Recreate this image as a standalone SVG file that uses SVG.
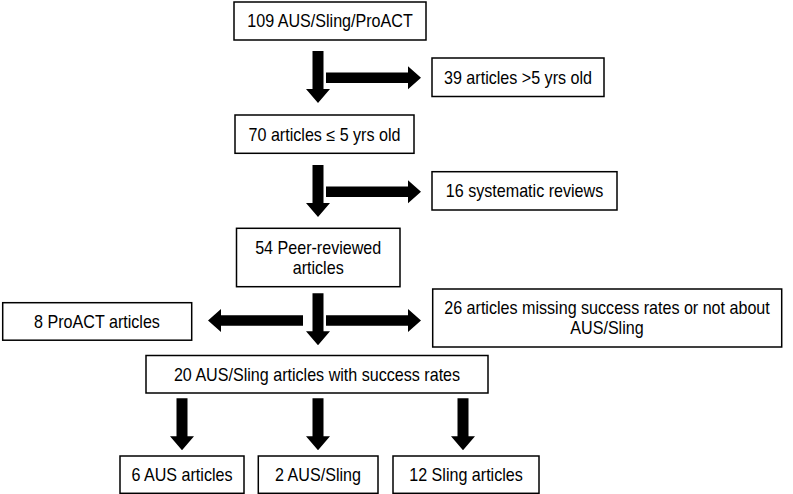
<svg xmlns="http://www.w3.org/2000/svg" xmlns:xlink="http://www.w3.org/1999/xlink" width="793" height="494" viewBox="0 0 793 494">
<style>
.box{fill:#fff;stroke:#000;stroke-width:1.5}
.t{font-family:"Liberation Sans",Arial,sans-serif;font-size:17.7px;fill:#000;text-anchor:middle}
.arr{fill:#000}
</style>
<defs>
<path id="down" d="M-5.5,0 H5.5 V38 H12 L0,52 L-12,38 H-5.5 Z"/>
<path id="right" d="M0,-5.3 H82 V-11.5 L95,0 L82,11.5 V5.3 H0 Z"/>
</defs>
<rect width="793" height="494" fill="#fff"/>
<g id="connectors" class="arr">
<use xlink:href="#down" transform="translate(318,51)"/>
<use xlink:href="#right" transform="translate(326,77.7)"/>
<use xlink:href="#down" transform="translate(318,165)"/>
<use xlink:href="#right" transform="translate(326,191.7)"/>
<use xlink:href="#down" transform="translate(318,293.3)"/>
<use xlink:href="#right" transform="translate(326,320.5)"/>
<use xlink:href="#right" transform="translate(303,320.5) scale(-1,1)"/>
<use xlink:href="#down" transform="translate(182,398.3)"/>
<use xlink:href="#down" transform="translate(318,398.3)"/>
<use xlink:href="#down" transform="translate(463,398.3)"/>
</g>
<g id="n1"><rect class="box" x="234" y="2" width="192" height="38"/><text class="t" transform="translate(330,27.3) scale(0.91,1)">109 AUS/Sling/ProACT</text></g>
<g id="n2"><rect class="box" x="432" y="58" width="172" height="38.5"/><text class="t" transform="translate(518,83.5) scale(0.91,1)">39 articles &gt;5 yrs old</text></g>
<g id="n3"><rect class="box" x="235" y="115" width="179" height="38.3"/><text class="t" transform="translate(324.5,140.5) scale(0.91,1)">70 articles ≤ 5 yrs old</text></g>
<g id="n4"><rect class="box" x="432" y="171.7" width="185" height="38.3"/><text class="t" transform="translate(524.5,197.2) scale(0.91,1)">16 systematic reviews</text></g>
<g id="n5"><rect class="box" x="236.5" y="228.3" width="163.5" height="58.4"/><text class="t" transform="translate(318.2,253.8) scale(0.91,1)">54 Peer-reviewed</text><text class="t" transform="translate(318.2,273.8) scale(0.91,1)">articles</text></g>
<g id="n6"><rect class="box" x="2.7" y="302.7" width="189" height="37.5"/><text class="t" transform="translate(97,327.8) scale(0.91,1)">8 ProACT articles</text></g>
<g id="n7"><rect class="box" x="432.7" y="289" width="349" height="58"/><text class="t" transform="translate(607,314.3) scale(0.91,1)">26 articles missing success rates or not about</text><text class="t" transform="translate(607,334.3) scale(0.91,1)">AUS/Sling</text></g>
<g id="n8"><rect class="box" x="146" y="355.5" width="342" height="37.5"/><text class="t" transform="translate(317,380.5) scale(0.91,1)">20 AUS/Sling articles with success rates</text></g>
<g id="n9"><rect class="box" x="120" y="456" width="124" height="37.3"/><text class="t" transform="translate(182,481) scale(0.91,1)">6 AUS articles</text></g>
<g id="n10"><rect class="box" x="258.3" y="456" width="119.7" height="37.3"/><text class="t" transform="translate(318,481) scale(0.91,1)">2 AUS/Sling</text></g>
<g id="n11"><rect class="box" x="393" y="456" width="146" height="37.3"/><text class="t" transform="translate(466,481) scale(0.91,1)">12 Sling articles</text></g>
</svg>
